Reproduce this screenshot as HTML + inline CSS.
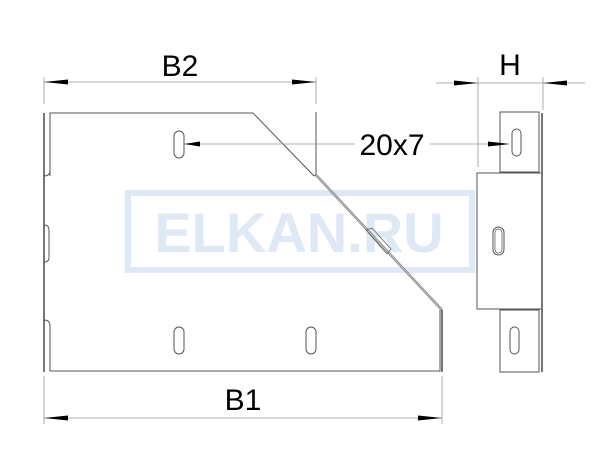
<!DOCTYPE html>
<html><head><meta charset="utf-8"><style>
html,body{margin:0;padding:0;background:#fff;}
svg{display:block;}
</style></head><body>
<svg width="600" height="464" viewBox="0 0 600 464" xmlns="http://www.w3.org/2000/svg">
<!-- watermark -->
<rect x="128" y="193" width="344" height="77" fill="none" stroke="#dfe8f5" stroke-width="6"/>
<text x="299" y="252" text-anchor="middle" font-family="Liberation Sans, sans-serif" font-weight="bold" font-size="56" fill="#dfe8f5">ELKAN.RU</text>

<g fill="none" stroke="#555" stroke-width="1">
<!-- main plate -->
<path d="M50,176 L50,113 L253,113 L313,175 Q315,177 316,174 L316,112"/>
<path d="M50,325 L50,371 L440,371 L440,310"/>
<line x1="44" y1="113" x2="44" y2="372" stroke-width="2" stroke="#777"/>
<path d="M44,176 Q50,176 50,170"/>
<path d="M44,320 Q50,320 50,326"/>
<path d="M44,225 Q49,225 49,230 L49,258 Q49,262 44,262"/>
<line x1="316" y1="175" x2="442" y2="310" stroke-width="2.5" stroke="#888"/>
<line x1="316" y1="175" x2="442" y2="310" stroke-width="0.8" stroke="#ccc"/>
<line x1="442" y1="310" x2="442" y2="372" stroke-width="2" stroke="#777"/>
<path d="M366,230 L372,228 L391,249 L387,254 Z" stroke-width="0.7"/>
<!-- slots -->
<rect x="174" y="131" width="10" height="27" rx="5"/>
<rect x="174" y="327" width="10" height="27" rx="5"/>
<rect x="306" y="327" width="10" height="27" rx="5"/>
<!-- right view -->
<rect x="500" y="112" width="39" height="60"/>
<rect x="477" y="173" width="65" height="136"/>
<rect x="500" y="310" width="39" height="62"/>
<line x1="542" y1="113" x2="542" y2="372" stroke-width="2" stroke="#777"/>
<rect x="512" y="129" width="9" height="27" rx="4.5"/>
<rect x="493" y="227" width="11" height="28" rx="5.5"/>
<rect x="495" y="229" width="7" height="24" rx="3.5" stroke-width="0.7"/>
<rect x="510" y="327" width="9" height="27" rx="4.5"/>
</g>

<!-- dimension lines -->
<g stroke="#999" stroke-width="0.8" fill="none">
<line x1="44" y1="77" x2="44" y2="104"/>
<line x1="316" y1="77" x2="316" y2="104"/>
<line x1="44" y1="82" x2="316" y2="82"/>
<line x1="44" y1="376" x2="44" y2="424"/>
<line x1="442" y1="376" x2="442" y2="424"/>
<line x1="44" y1="418" x2="442" y2="418"/>
<line x1="478" y1="77" x2="478" y2="167"/>
<line x1="543" y1="77" x2="543" y2="110"/>
<line x1="436" y1="83" x2="585" y2="83"/>
<line x1="184" y1="144" x2="355" y2="144"/>
<line x1="430" y1="144" x2="507" y2="144"/>
</g>
<g fill="#000">
<polygon points="44,82 68,79.5 68,84.5"/>
<polygon points="316,82 292,79.5 292,84.5"/>
<polygon points="44,418 68,415.5 68,420.5"/>
<polygon points="442,418 418,415.5 418,420.5"/>
<polygon points="478,83 454,80.5 454,85.5"/>
<polygon points="543,83 567,80.5 567,85.5"/>
<polygon points="184,144 200,141.5 200,146.5"/>
<polygon points="510,144 488,141.5 488,146.5"/>
</g>
<g font-family="Liberation Sans, sans-serif" font-size="30" fill="#000" text-anchor="middle">
<text x="180" y="76">B2</text>
<text x="243" y="410">B1</text>
<text x="392" y="155">20x7</text>
<text x="510" y="75">H</text>
</g>
</svg>
</body></html>
